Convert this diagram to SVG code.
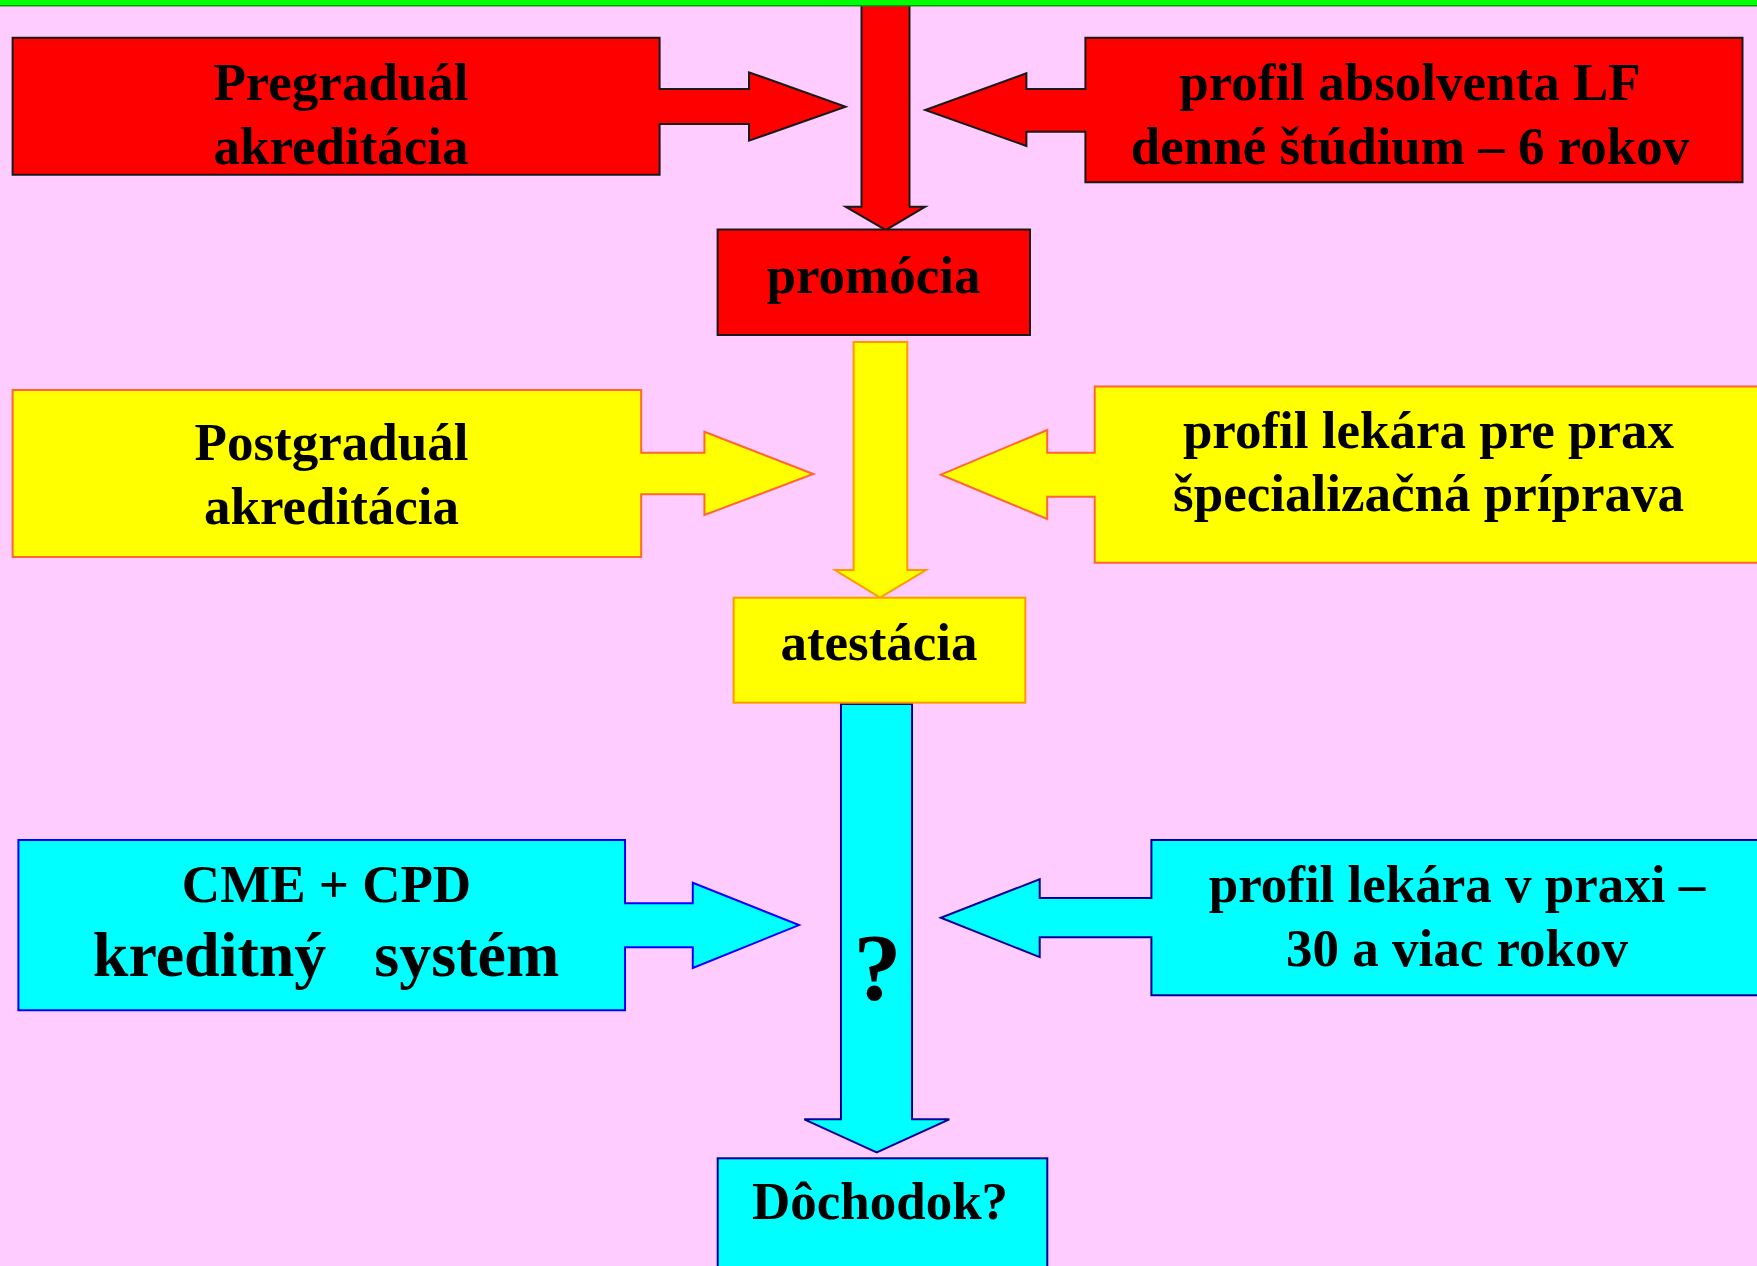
<svg xmlns="http://www.w3.org/2000/svg" width="1757" height="1266" viewBox="0 0 1757 1266">
<style>
  .t { font-family: "Liberation Serif", "Times New Roman", serif; font-weight: bold; font-size: 53px; fill: #000; text-anchor: middle; }
  .red { fill: #FF0000; stroke: #1a1a1a; stroke-width: 2; stroke-linejoin: miter; }
  .yel { fill: #FFFF00; stroke: #FF6633; stroke-width: 2; }
  .yel2 { fill: #FFFF00; stroke: #FF9900; stroke-width: 2; }
  .cyn { fill: #00FFFF; stroke: #0000FF; stroke-width: 2; }
  .cyn2 { fill: #00FFFF; stroke: #000099; stroke-width: 2; }
</style>
<rect x="0" y="0" width="1757" height="1266" fill="#FFCCFF"/>

<g id="connectors">
  <path class="red" d="M861.5,4 H909.5 V206.7 H925.2 L885.8,230 L845.6,206.7 H861.5 Z"/>
  <path class="yel2" d="M853.6,342 H907.3 V570 H926 L880,597.5 L835,570 H853.6 Z"/>
  <path class="cyn2" d="M841,704 H912 V1119.3 H949.3 L876.7,1152.3 L804.3,1119.3 H841 Z"/>
</g>

<rect x="0" y="0" width="1757" height="5" fill="#00FF00"/>
<rect x="0" y="5" width="1757" height="1.5" fill="#00A000"/>

<g id="pregradual">
  <path class="red" d="M12.6,37.7 H659.6 V89 H749 V72.3 L845.6,106.7 L749,140.7 V124 H659.6 V174.7 H12.6 Z"/>
  <text class="t" x="341" y="100">Pregraduál</text>
  <text class="t" x="341" y="164">akreditácia</text>
</g>

<g id="profil-absolventa">
  <path class="red" d="M1742.5,37.7 V182.3 H1085.4 V131.7 H1026.4 V146 L925.2,110 L1026.4,73.3 V89 H1085.4 V37.7 Z"/>
  <text class="t" x="1410" y="100">profil absolventa LF</text>
  <text class="t" x="1410" y="164">denné štúdium – 6 rokov</text>
</g>

<g id="promocia">
  <rect class="red" x="717.6" y="229.5" width="312.4" height="105.5"/>
  <text class="t" x="873.5" y="292.7">promócia</text>
</g>

<g id="postgradual">
  <path class="yel" d="M12.6,390 H641.2 V452.7 H704.4 V431.7 L813.4,474 L704.4,515 V494.3 H641.2 V557 H12.6 Z"/>
  <text class="t" x="331.5" y="460">Postgraduál</text>
  <text class="t" x="331.5" y="524.3">akreditácia</text>
</g>

<g id="profil-lekara-pre-prax">
  <path class="yel" d="M1770,386.5 V562.7 H1094.7 V496.7 H1047.2 V519 L940.8,474.7 L1047.2,430 V452.7 H1094.7 V386.5 Z"/>
  <text class="t" x="1428.5" y="447.7">profil lekára pre prax</text>
  <text class="t" x="1428.5" y="511">špecializačná príprava</text>
</g>

<g id="atestacia">
  <rect class="yel2" x="733.6" y="597.7" width="291.7" height="105"/>
  <text class="t" x="879" y="660">atestácia</text>
</g>

<g id="cme-cpd">
  <path class="cyn" d="M18.4,840 H625 V903.3 H692.8 V882.8 L799,925.1 L692.8,967.9 V947.3 H625 V1010.3 H18.4 Z"/>
  <text class="t" x="326.5" y="902">CME + CPD</text>
  <text class="t" x="326" y="975.8" style="font-size:64px;white-space:pre" xml:space="preserve">kreditný   systém</text>
</g>

<g id="profil-lekara-v-praxi">
  <path class="cyn2" d="M1770,840 V995.3 H1151.4 V937.2 H1039.7 V957.1 L940.8,917.8 L1039.7,879.2 V897.9 H1151.4 V840 Z"/>
  <text class="t" x="1457" y="902">profil lekára v praxi –</text>
  <text class="t" x="1457" y="965.5">30 a viac rokov</text>
</g>

<g id="otaznik">
  <text class="t" x="877.5" y="1000" style="font-size:96px">?</text>
</g>

<g id="dochodok">
  <rect class="cyn2" x="717.7" y="1158.3" width="329.6" height="130"/>
  <text class="t" x="880" y="1219">Dôchodok?</text>
</g>
</svg>
